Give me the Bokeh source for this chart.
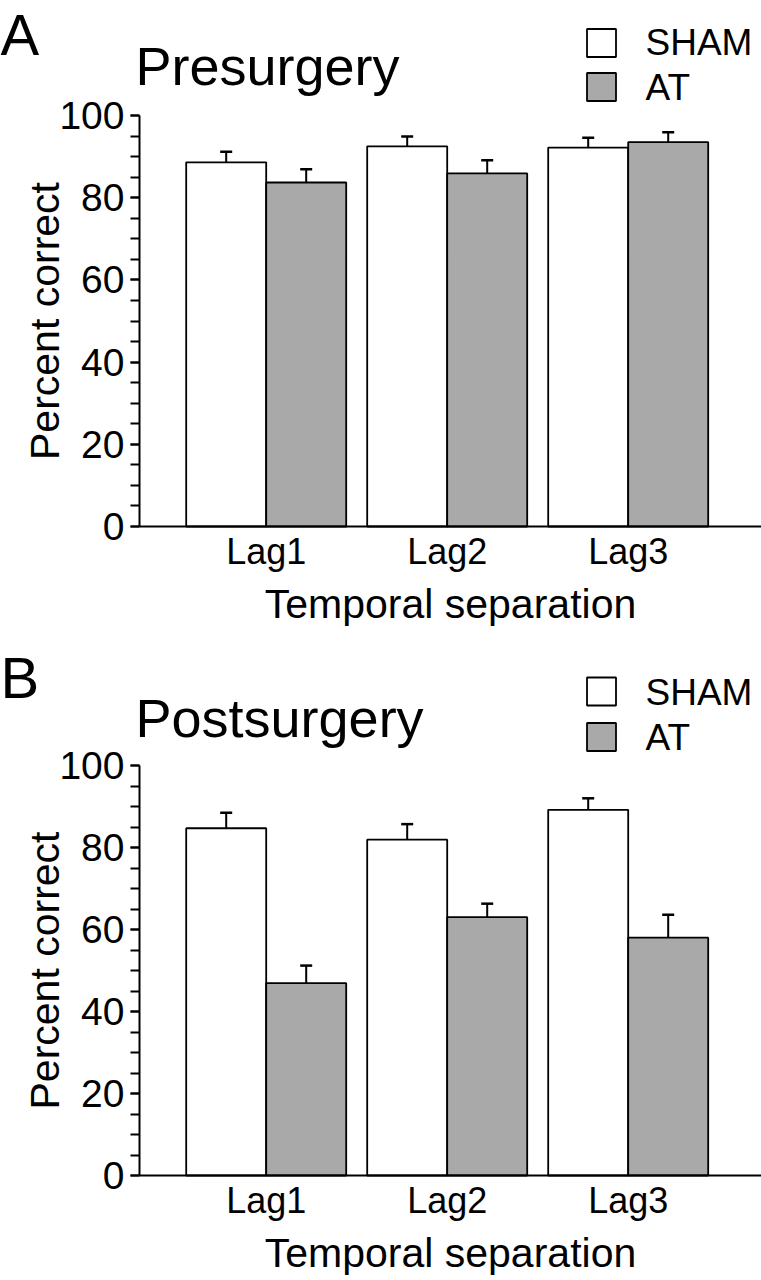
import numpy as np
from bokeh.plotting import figure
from bokeh.layouts import column
from bokeh.models import (Range1d, SingleIntervalTicker, FixedTicker, ColumnDataSource,
                          Whisker, TeeHead, Label, LinearAxis)
from bokeh.embed import file_html
from bokeh.resources import INLINE

# ---- data ----
categories = ["Lag1", "Lag2", "Lag3"]
groups = ["SHAM", "AT"]
pre_sham = [88.6, 92.5, 92.2]
pre_sham_sem = [2.6, 2.4, 2.4]
pre_at = [83.7, 85.9, 93.5]
pre_at_sem = [3.2, 3.2, 2.4]
post_sham = [84.7, 81.9, 89.2]
post_sham_sem = [3.8, 3.8, 2.8]
post_at = [46.9, 63.0, 58.0]
post_at_sem = [4.3, 3.3, 5.6]

FONT = "Liberation Sans"
BAR_W = 0.442
FILLS = ["white", "#a9a9a9"]
W = 761
PX_X = 181.0          # pixels per category step
AX_X = 0.30           # data x where the y axis sits
AX_PX = 139           # pixel column of the y axis


def make_panel(letter, title, sham, sham_sem, at, at_sem,
               fig_top, fig_h, zero_px, px_y, letter_mid, title_mid,
               sq_centers, txt_mids):
    # ranges chosen so the frame fills the whole figure
    x0 = AX_X - AX_PX / PX_X
    x1 = x0 + W / PX_X
    y0 = -(fig_top + fig_h - zero_px) / px_y
    y1 = (zero_px - fig_top) / px_y
    p = figure(width=W, height=fig_h, x_range=Range1d(x0, x1), y_range=Range1d(y0, y1),
               x_axis_location=None, y_axis_location=None,
               output_backend="svg", toolbar_location=None, min_border=0,
               min_border_left=0, min_border_right=0, min_border_top=0, min_border_bottom=0)
    p.outline_line_color = None
    p.grid.visible = False

    pos = np.arange(1, len(categories) + 1)
    src_s = ColumnDataSource(dict(x=pos - BAR_W / 2, top=sham,
                                  hi=np.array(sham) + np.array(sham_sem)))
    src_a = ColumnDataSource(dict(x=pos + BAR_W / 2, top=at,
                                  hi=np.array(at) + np.array(at_sem)))
    for src in (src_s, src_a):
        p.add_layout(Whisker(base="x", lower="top", upper="hi", source=src,
                             line_color="black", line_width=2,
                             upper_head=TeeHead(size=12, line_width=2.5, line_color="black"),
                             lower_head=None, level="underlay"))
    p.vbar(x="x", top="top", bottom=0, width=BAR_W, source=src_s,
           fill_color=FILLS[0], line_color="black", line_width=1.8)
    p.vbar(x="x", top="top", bottom=0, width=BAR_W, source=src_a,
           fill_color=FILLS[1], line_color="black", line_width=1.8)

    ya = LinearAxis(fixed_location=AX_X, bounds=(0, 100),
                    ticker=SingleIntervalTicker(interval=20, num_minor_ticks=4))
    ya.axis_line_width = 2
    ya.major_tick_line_width = 2
    ya.minor_tick_line_width = 2
    ya.major_tick_out = 9
    ya.major_tick_in = 0
    ya.minor_tick_out = 9
    ya.minor_tick_in = 0
    ya.major_label_text_font = FONT
    ya.major_label_text_font_size = "39px"
    ya.major_label_text_color = "black"
    ya.major_label_standoff = 6
    ya.axis_label = "Percent correct"
    ya.axis_label_text_font = FONT
    ya.axis_label_text_font_size = "41px"
    ya.axis_label_text_font_style = "normal"
    ya.axis_label_text_color = "black"
    ya.axis_label_standoff = -12
    p.add_layout(ya, "left")

    xa = LinearAxis(fixed_location=0, bounds=(AX_X, x1),
                    ticker=FixedTicker(ticks=list(pos)))
    xa.major_label_overrides = {int(k): c for k, c in zip(pos, categories)}
    xa.axis_line_width = 2
    xa.major_tick_out = 0
    xa.major_tick_in = 0
    xa.minor_tick_out = 0
    xa.minor_tick_in = 0
    xa.major_label_text_font = FONT
    xa.major_label_text_font_size = "36px"
    xa.major_label_text_color = "black"
    xa.major_label_standoff = 4
    xa.axis_label = "Temporal separation"
    xa.axis_label_text_font = FONT
    xa.axis_label_text_font_size = "41px"
    xa.axis_label_text_font_style = "normal"
    xa.axis_label_text_color = "black"
    xa.axis_label_standoff = 6
    p.add_layout(xa, "below")

    fig_bottom = fig_top + fig_h

    def sy(page_y):
        return fig_bottom - page_y

    def dx(page_x):
        return x0 + page_x / PX_X

    def dy(page_y):
        return y1 - (page_y - fig_top) / px_y

    # panel letter and title
    p.add_layout(Label(x=0, y=sy(letter_mid), x_units="screen", y_units="screen",
                       text=letter, text_font=FONT, text_font_size="58px",
                       text_baseline="middle", text_align="left", text_color="black"))
    p.add_layout(Label(x=135, y=sy(title_mid), x_units="screen", y_units="screen",
                       text=title, text_font=FONT, text_font_size="54px",
                       text_baseline="middle", text_align="left", text_color="black"))
    # legend swatches and labels
    p.rect(x=[dx(601), dx(601)], y=[dy(c) for c in sq_centers],
           width=29 / PX_X, height=28 / px_y,
           fill_color=FILLS, line_color="black", line_width=1.8)
    for g, m in zip(groups, txt_mids):
        p.add_layout(Label(x=645, y=sy(m), x_units="screen", y_units="screen",
                           text=g, text_font=FONT, text_font_size="37px",
                           text_baseline="middle", text_align="left",
                           text_color="black"))
    return p


pA = make_panel("A", "Presurgery", pre_sham, pre_sham_sem, pre_at, pre_at_sem,
                0, 640, 526, 4.11, 34, 65, [42.5, 86.5], [41.5, 86.5])
pB = make_panel("B", "Postsurgery", post_sham, post_sham_sem, post_at, post_at_sem,
                640, 640, 1175, 4.10, 676.5, 717.5, [691, 736.5], [691.5, 736.5])

layout = column(pA, pB, spacing=0)
open("out.html", "w").write(file_html(layout, INLINE))
